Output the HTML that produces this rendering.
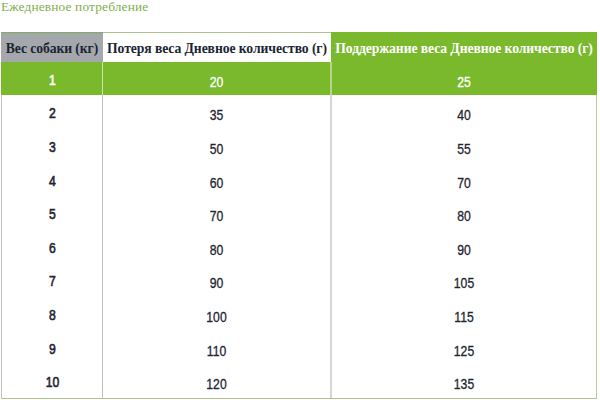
<!DOCTYPE html>
<html>
<head>
<meta charset="utf-8">
<style>
html,body{margin:0;padding:0;background:#fff;width:600px;height:400px;overflow:hidden;}
body{position:relative;}
.title{position:absolute;left:1px;top:-1px;font-family:"Liberation Serif",serif;font-size:13.33px;letter-spacing:0.17px;line-height:15px;color:#80b050;white-space:nowrap;}
.c{position:absolute;box-sizing:border-box;text-align:center;white-space:nowrap;}
.h{font-family:"Liberation Serif",serif;font-weight:bold;font-size:13.7px;letter-spacing:-0.1px;line-height:31px;color:#1b2533;}
.n{font-family:"Liberation Sans","DejaVu Sans",sans-serif;font-size:14px;letter-spacing:0px;line-height:17px;transform:scaleX(0.87);color:#1e2430;-webkit-text-stroke:0.3px;}
.b{font-weight:normal;-webkit-text-stroke:0.6px;}
.ln{position:absolute;}
</style>
</head>
<body>
<div class="title">Ежедневное потребление</div>

<!-- header -->
<div class="c h" style="left:1px;top:33px;width:102px;height:29px;background:#a4a8ad;">Вес собаки (кг)</div>
<div class="c h" style="left:103px;top:33px;width:228px;height:29px;background:#fff;">Потеря веса Дневное количество (г)</div>
<div class="c h" style="left:331px;top:32px;width:266px;height:30px;background:#7ab82c;color:#fff;line-height:33px;">Поддержание веса Дневное количество (г)</div>
<div class="ln" style="left:1px;top:32px;width:102px;height:1px;background:#86aa68;"></div>
<div class="ln" style="left:103px;top:32px;width:228px;height:1px;background:#afc48c;"></div>
<div class="ln" style="left:1px;top:33px;width:102px;height:1px;background:#9aa8a0;"></div>

<!-- row 1 green -->
<div class="ln" style="left:1px;top:62px;width:596px;height:33px;background:#7ab82c;"></div>
<div class="ln" style="left:102px;top:62px;width:1px;height:33px;background:#cfe3a0;"></div>
<div class="ln" style="left:330px;top:62px;width:2px;height:33px;background:#b8d68a;"></div>

<!-- body vertical lines -->
<div class="ln" style="left:1px;top:95px;width:1px;height:303px;background:#c0c4c8;"></div>
<div class="ln" style="left:102px;top:95px;width:1px;height:303px;background:#c0c0c0;"></div>
<div class="ln" style="left:330px;top:95px;width:2px;height:303px;background:#d6d6d6;"></div>
<div class="ln" style="left:596px;top:95px;width:1px;height:303px;background:#b6d08e;"></div>
<!-- bottom line -->
<div class="ln" style="left:1px;top:398px;width:596px;height:1px;background:#b4c08e;"></div>

<div id="rows">
<div class="c n b" style="left:1.5px;top:72px;width:101px;color:#fff;">1</div>
<div class="c n" style="left:102px;top:74px;width:229px;color:#fff;">20</div>
<div class="c n" style="left:331px;top:74px;width:266px;color:#fff;">25</div>
<div class="c n b" style="left:1.5px;top:105px;width:101px;">2</div>
<div class="c n" style="left:102px;top:107px;width:229px;">35</div>
<div class="c n" style="left:331px;top:107px;width:266px;">40</div>
<div class="c n b" style="left:1.5px;top:139px;width:101px;">3</div>
<div class="c n" style="left:102px;top:141px;width:229px;">50</div>
<div class="c n" style="left:331px;top:141px;width:266px;">55</div>
<div class="c n b" style="left:1.5px;top:173px;width:101px;">4</div>
<div class="c n" style="left:102px;top:175px;width:229px;">60</div>
<div class="c n" style="left:331px;top:175px;width:266px;">70</div>
<div class="c n b" style="left:1.5px;top:206px;width:101px;">5</div>
<div class="c n" style="left:102px;top:208px;width:229px;">70</div>
<div class="c n" style="left:331px;top:208px;width:266px;">80</div>
<div class="c n b" style="left:1.5px;top:240px;width:101px;">6</div>
<div class="c n" style="left:102px;top:242px;width:229px;">80</div>
<div class="c n" style="left:331px;top:242px;width:266px;">90</div>
<div class="c n b" style="left:1.5px;top:273px;width:101px;">7</div>
<div class="c n" style="left:102px;top:275px;width:229px;">90</div>
<div class="c n" style="left:331px;top:275px;width:266px;">105</div>
<div class="c n b" style="left:1.5px;top:307px;width:101px;">8</div>
<div class="c n" style="left:102px;top:309px;width:229px;">100</div>
<div class="c n" style="left:331px;top:309px;width:266px;">115</div>
<div class="c n b" style="left:1.5px;top:341px;width:101px;">9</div>
<div class="c n" style="left:102px;top:343px;width:229px;">110</div>
<div class="c n" style="left:331px;top:343px;width:266px;">125</div>
<div class="c n b" style="left:1.5px;top:374px;width:101px;">10</div>
<div class="c n" style="left:102px;top:376px;width:229px;">120</div>
<div class="c n" style="left:331px;top:376px;width:266px;">135</div>
</div>
</body>
</html>
